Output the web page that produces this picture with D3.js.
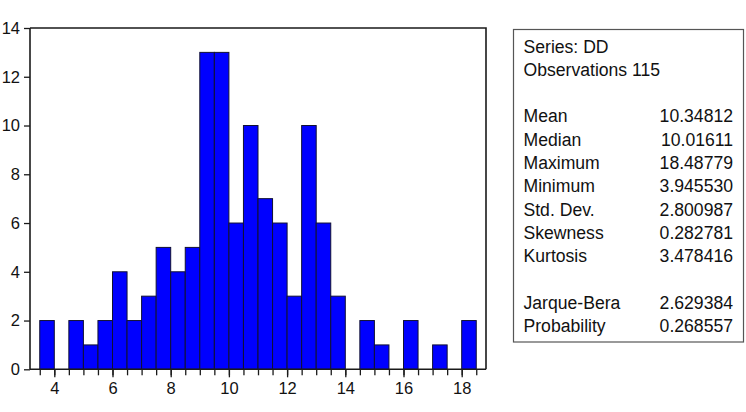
<!DOCTYPE html>
<html>
<head>
<meta charset="utf-8">
<script src="https://cdn.jsdelivr.net/npm/d3@7"></script>
<style>
  html, body { margin: 0; padding: 0; background: #fff; }
  svg { display: block; font-family: "Liberation Sans", Arial, Helvetica, sans-serif; }
</style>
</head>
<body>
<svg id="chart" width="746" height="412"></svg>
<script>
// ---- data ----
const binStarts = [3.5,4.0,4.5,5.0,5.5,6.0,6.5,7.0,7.5,8.0,8.5,9.0,9.5,10.0,10.5,11.0,11.5,12.0,12.5,13.0,13.5,14.0,14.5,15.0,15.5,16.0,16.5,17.0,17.5,18.0];
const binWidth = 0.5;
const counts = [2,0,2,1,2,4,2,3,5,4,5,13,13,6,10,7,6,3,10,6,3,0,2,1,0,2,0,1,0,2];
const xTickLabels = [4,6,8,10,12,14,16,18];
const yTickLabels = [0,2,4,6,8,10,12,14];
const statHeader = ["Series: DD", "Observations 115"];
const statNames = ["Mean","Median","Maximum","Minimum","Std. Dev.","Skewness","Kurtosis"];
const statValues = ["10.34812","10.01611","18.48779","3.945530","2.800987","0.282781","3.478416"];
const testNames = ["Jarque-Bera","Probability"];
const testValues = ["2.629384","0.268557"];

// ---- layout ----
const svg = d3.select("#chart");
const plot = {left: 30, right: 486, top: 28, bottom: 369.3};
const x = d3.scaleLinear().domain([3.165, 18.835]).range([plot.left, plot.right]);
const y = d3.scaleLinear().domain([0, 14]).range([plot.bottom, plot.top]);
const axisColor = "#1a1a1a";
const fontFam = "'Liberation Sans', Arial, sans-serif";

// bars
svg.append("g").selectAll("rect")
  .data(binStarts.map((s, i) => ({s, c: counts[i]})).filter(d => d.c > 0))
  .join("rect")
  .attr("x", d => x(d.s))
  .attr("width", d => x(d.s + binWidth) - x(d.s))
  .attr("y", d => y(d.c))
  .attr("height", d => y(0) - y(d.c))
  .attr("fill", "#0000ff")
  .attr("stroke", "#111133")
  .attr("stroke-width", 1);

// frame (top, right)
svg.append("path")
  .attr("d", `M${plot.left},${plot.top}H${plot.right}V${plot.bottom}`)
  .attr("fill", "none").attr("stroke", axisColor).attr("stroke-width", 1.6);

// x axis: minor ticks at every bin edge, labels on even numbers
const edges = binStarts.concat([binStarts[binStarts.length-1] + binWidth]);
const xAxisMinor = d3.axisBottom(x).tickValues(edges).tickSize(6).tickFormat("");
const gxm = svg.append("g").attr("transform", `translate(0,${plot.bottom})`).call(xAxisMinor);
gxm.select(".domain").remove();
gxm.selectAll("line").attr("stroke", axisColor).attr("stroke-width", 1.3);

const xAxis = d3.axisBottom(x).tickValues(xTickLabels).tickSize(8).tickPadding(5).tickFormat(d3.format("d"));
const gx = svg.append("g").attr("transform", `translate(0,${plot.bottom})`).call(xAxis);
gx.attr("font-family", fontFam);
gx.select(".domain").remove();
gx.selectAll("line").attr("stroke", axisColor).attr("stroke-width", 1.3);
gx.selectAll("text").attr("font-size", 16.5).attr("fill", "#111");

svg.append("line").attr("x1", plot.left).attr("x2", plot.right)
  .attr("y1", plot.bottom).attr("y2", plot.bottom)
  .attr("stroke", axisColor).attr("stroke-width", 1.6);

// y axis
const yAxis = d3.axisLeft(y).tickValues(yTickLabels).tickSize(6).tickPadding(4).tickFormat(d3.format("d"));
const gy = svg.append("g").attr("transform", `translate(${plot.left},0)`).call(yAxis);
gy.attr("font-family", fontFam);
gy.select(".domain").remove();
gy.selectAll("line").attr("stroke", axisColor).attr("stroke-width", 1.3);
gy.selectAll("text").attr("font-size", 16.5).attr("fill", "#111");
svg.append("line").attr("x1", plot.left).attr("x2", plot.left)
  .attr("y1", plot.top).attr("y2", plot.bottom)
  .attr("stroke", axisColor).attr("stroke-width", 1.6);

// stats box
const box = {left: 513.5, top: 29.5, right: 743.5, bottom: 342};
svg.append("rect")
  .attr("x", box.left).attr("y", box.top)
  .attr("width", box.right - box.left).attr("height", box.bottom - box.top)
  .attr("fill", "#fff").attr("stroke", "#555").attr("stroke-width", 1.2);

const lineY = i => 52.5 + 23.3 * i;
const textLeft = 523.5, textRight = 733;
const st = svg.append("g").attr("font-size", 17.6).attr("fill", "#111").attr("font-family", fontFam);
statHeader.forEach((t, i) => st.append("text").attr("x", textLeft).attr("y", lineY(i)).text(t));
statNames.forEach((t, i) => {
  st.append("text").attr("x", textLeft).attr("y", lineY(i + 3)).text(t);
  st.append("text").attr("x", textRight).attr("y", lineY(i + 3)).attr("text-anchor", "end").text(statValues[i]);
});
testNames.forEach((t, i) => {
  st.append("text").attr("x", textLeft).attr("y", lineY(i + 11)).text(t);
  st.append("text").attr("x", textRight).attr("y", lineY(i + 11)).attr("text-anchor", "end").text(testValues[i]);
});
</script>
</body>
</html>
